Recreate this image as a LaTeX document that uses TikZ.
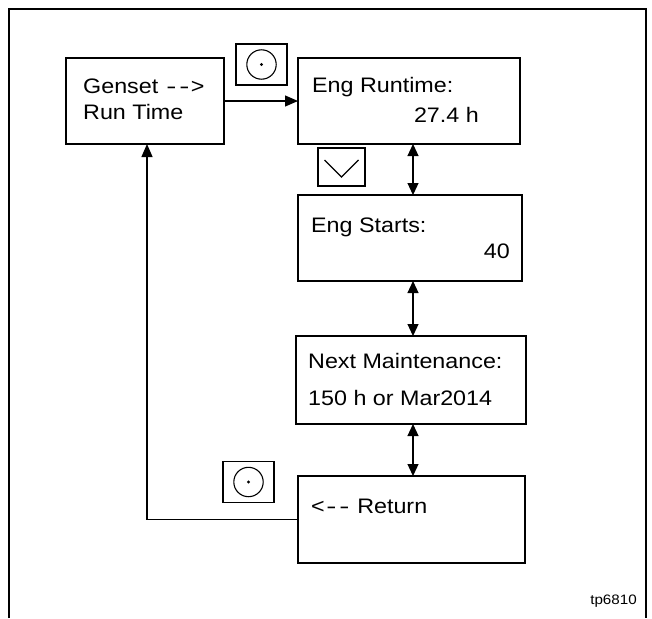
\documentclass[tikz,border=0pt]{standalone}
\usepackage{fontspec}
\usepackage{graphicx}
\newfontfamily\hv{Liberation Sans}
\newcommand\squash[1]{\scalebox{1}[0.9]{#1}}
\newcommand\dsh{\makebox[13pt][c]{\scalebox{1.3}[1]{-}}}
\usetikzlibrary{arrows.meta}
\begin{document}
\begin{tikzpicture}[x=1pt,y=-1pt,
  box/.style={draw, line width=1.2pt, inner sep=0pt, outer sep=0pt, anchor=north west},
  btn/.style={draw, line width=1.1pt, inner sep=0pt, outer sep=0pt, minimum width=51pt, minimum height=41pt},
  txt/.style={inner sep=0pt, font=\hv\fontsize{23.3}{28}\selectfont},
  arr/.style={line width=1.2pt, -{Triangle[length=13pt,width=11pt]}},
  darr/.style={line width=1.2pt, {Triangle[length=12pt,width=11pt]}-{Triangle[length=12pt,width=11pt]}}]
\useasboundingbox (0,0) rectangle (652,618);
% outer frame (open at the bottom)
\draw[line width=2pt] (9,618) -- (9,9) -- (646,9) -- (646,618);
% boxes
\node[box, minimum width=158pt, minimum height=86pt] (gs) at (66,58) {};
\node[box, minimum width=222pt, minimum height=86pt] (rt) at (298,58) {};
\node[box, minimum width=224pt, minimum height=86pt] (st) at (298,195) {};
\node[box, minimum width=230pt, minimum height=88pt] (nm) at (296,336) {};
\node[box, minimum width=227pt, minimum height=87pt] (rn) at (298,476) {};
% texts
\node[txt, anchor=base west] (gsA) at (83,93) {\squash{Genset \dsh\dsh>}};
\node[txt, anchor=base west] (gsB) at (83,119) {\squash{Run Time}};
\node[txt, anchor=base west] (rtA) at (312,92) {\squash{Eng Runtime:}};
\node[txt, anchor=base east] (rtB) at (479,122) {\squash{27.4 h}};
\node[txt, anchor=base west] (stA) at (311,232) {\squash{Eng Starts:}};
\node[txt, anchor=base east] (stB) at (510,258) {\squash{40}};
\node[txt, anchor=base west] (nmA) at (308,368) {\squash{Next Maintenance:}};
\node[txt, anchor=base west] (nmB) at (308,405) {\squash{150 h or Mar2014}};
\node[txt, anchor=base west] (rnA) at (311,513) {\squash{<\dsh\dsh\ Return}};
\node[inner sep=0pt, anchor=base east, font=\hv\fontsize{15.2}{18}\selectfont] (tp) at (637,604) {\squash{tp6810}};
% buttons
\node[btn] (b1) at (261.5,64.5) {};
\draw[line width=1.1pt] (b1.center) circle (14.7);
\fill (b1.center) circle (1.7);
\node[btn] (b2) at (248.5,482) {};
\draw[line width=1.1pt] (b2.center) circle (14.7);
\fill (b2.center) circle (1.7);
\node[btn, minimum width=47pt, minimum height=38pt] (b3) at (341.5,167) {};
\draw[line width=1.1pt] ([shift={(-17,-7)}]b3.center) -- ([shift={(0,10)}]b3.center) -- ([shift={(17,-7)}]b3.center);
% connectors
\draw[arr] (gs.east) -- (rt.west);
\draw[darr] ([xshift=4pt]rt.south) -- ([xshift=4pt]rt.south |- st.north);
\draw[darr] ([xshift=3pt]st.south) -- ([xshift=3pt]st.south |- nm.north);
\draw[darr] ([xshift=2pt]nm.south) -- ([xshift=2pt]nm.south |- rn.north);
\draw[arr] (rn.west) -| ([xshift=2pt]gs.south);
\end{tikzpicture}
\end{document}
